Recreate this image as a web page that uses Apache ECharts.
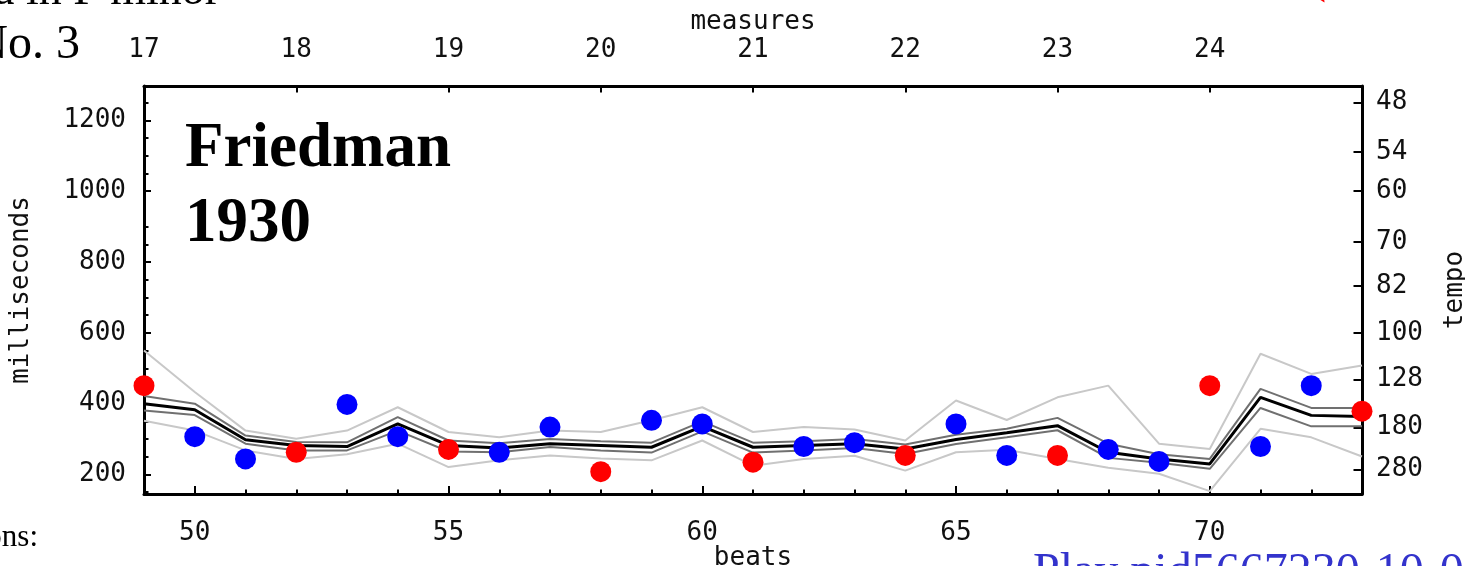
<!DOCTYPE html>
<html>
<head>
<meta charset="utf-8">
<script src="https://cdn.jsdelivr.net/npm/echarts@6/dist/echarts.min.js"></script>
<style>
  html, body { margin: 0; padding: 0; background: #fff; }
  #chart { width: 1465px; height: 566px; }
</style>
</head>
<body>
<div id="chart"></div>
<script>
// Beat numbers (measures 17-25, three beats per measure)
const beats = [49, 50, 51, 52, 53, 54, 55, 56, 57, 58, 59, 60, 61, 62, 63, 64, 65, 66, 67, 68, 69, 70, 71, 72, 73];
// Inter-onset interval of each beat in one performance (ms)
const beatIoi = [451, 307, 244, 263, 398, 307, 271, 263, 334, 208, 353, 343, 235, 279, 290, 254, 343, 254, 254, 271, 237, 451, 279, 451, 379];
// Average over all performances, with standard error and standard deviation bands (ms)
const avgIoi  = [400, 383, 298, 282, 279, 343, 282, 275, 287, 282, 277, 336, 277, 282, 287, 272, 299, 318, 338, 263, 244, 230, 418, 367, 364];
const seUpper = [422, 400, 310, 292, 291, 362, 296, 288, 300, 294, 290, 350, 290, 294, 300, 285, 312, 329, 360, 287, 257, 244, 442, 388, 388];
const seLower = [381, 368, 287, 268, 268, 324, 265, 263, 278, 268, 262, 322, 262, 268, 275, 258, 286, 305, 325, 247, 233, 216, 388, 336, 336];
const sdUpper = [550, 433, 324, 301, 324, 390, 320, 305, 324, 320, 353, 390, 320, 334, 327, 296, 409, 354, 418, 451, 287, 272, 541, 484, 508];
const sdLower = [352, 324, 268, 244, 257, 287, 221, 240, 254, 245, 240, 296, 225, 244, 253, 211, 263, 270, 244, 219, 202, 153, 329, 305, 251];

// Downbeats (first beat of each measure) are drawn red
const downbeats = [49, 52, 55, 58, 61, 64, 67, 70, 73];

// Axis ticks and labels
const msTicks = [200, 400, 600, 800, 1000, 1200];
const msMinorTicks = [150, 250, 300, 350, 450, 500, 550, 650, 700, 750, 850, 900, 1050, 1100, 1150, 1250];
const beatLabels = [50, 55, 60, 65, 70];
const measureBeats = [49, 52, 55, 58, 61, 64, 67, 70];
const measureNumbers = [17, 18, 19, 20, 21, 22, 23, 24];
const tempoTicks = [48, 54, 60, 70, 82, 100, 128, 180, 280];

const MS_MIN = 145, MS_MAX = 1297;
const monoFont = "'DejaVu Sans Mono', monospace";
const labelStyle = { fontFamily: monoFont, fontSize: 26, color: '#111' };
const axisLineStyle = { show: true, onZero: false, lineStyle: { color: '#000', width: 3 } };

const chart = echarts.init(document.getElementById('chart'), null, { renderer: 'canvas' });

function bandLine(name, values, color, width, z) {
  return {
    name, type: 'line', xAxisIndex: 0, yAxisIndex: 0,
    data: beats.map((b, i) => [b, values[i]]),
    symbol: 'none', silent: true, z,
    lineStyle: { color, width },
    clip: false
  };
}

const redPoints = [], bluePoints = [];
beats.forEach((b, i) => {
  (downbeats.includes(b) ? redPoints : bluePoints).push([b, beatIoi[i]]);
});

chart.setOption({
  animation: false,
  backgroundColor: '#fff',
  grid: { left: 144, right: 103, top: 86, bottom: 72, containLabel: false, outerBoundsMode: 'none' },
  xAxis: [
    {
      type: 'value', position: 'bottom', min: 49, max: 73,
      axisLine: axisLineStyle,
      axisTick: { show: true, inside: true, length: 4.5, lineStyle: { color: '#000', width: 2 }, customValues: beats },
      axisLabel: Object.assign({ margin: 26, customValues: beatLabels, formatter: v => String(v) }, labelStyle),
      splitLine: { show: false },
      name: 'beats', nameLocation: 'middle', nameGap: 51, nameMoveOverlap: false,
      nameTextStyle: labelStyle
    },
    {
      type: 'value', position: 'bottom', min: 49, max: 73,
      axisLine: { show: false, onZero: false },
      axisTick: { show: true, inside: true, length: 8, lineStyle: { color: '#000', width: 2 }, customValues: beatLabels },
      axisLabel: { show: false },
      splitLine: { show: false }
    },
    {
      type: 'value', position: 'top', min: 49, max: 73,
      axisLine: axisLineStyle,
      axisTick: { show: true, inside: true, length: 6.5, lineStyle: { color: '#000', width: 2 }, customValues: measureBeats },
      axisLabel: Object.assign({
        margin: 23, customValues: measureBeats,
        formatter: v => String(measureNumbers[measureBeats.indexOf(v)])
      }, labelStyle),
      splitLine: { show: false },
      name: 'measures', nameLocation: 'middle', nameGap: 51, nameMoveOverlap: false,
      nameTextStyle: labelStyle
    }
  ],
  yAxis: [
    {
      type: 'value', position: 'left', min: MS_MIN, max: MS_MAX,
      axisLine: axisLineStyle,
      axisTick: { show: true, inside: true, length: 7, lineStyle: { color: '#000', width: 2 }, customValues: msTicks },
      axisLabel: Object.assign({ margin: 18, customValues: msTicks, formatter: v => String(v) }, labelStyle),
      splitLine: { show: false },
      name: 'milliseconds', nameLocation: 'middle', nameRotate: 90, nameGap: 110, nameMoveOverlap: false,
      nameTextStyle: labelStyle
    },
    {
      type: 'value', position: 'left', min: MS_MIN, max: MS_MAX,
      axisLine: { show: false, onZero: false },
      axisTick: { show: true, inside: true, length: 4.5, lineStyle: { color: '#000', width: 2 }, customValues: msMinorTicks },
      axisLabel: { show: false },
      splitLine: { show: false }
    },
    {
      type: 'value', position: 'right', min: MS_MIN, max: MS_MAX,
      axisLine: axisLineStyle,
      axisTick: { show: true, inside: true, length: 8.5, lineStyle: { color: '#000', width: 2 }, customValues: tempoTicks.map(t => 60000 / t) },
      axisLabel: Object.assign({
        margin: 14, customValues: tempoTicks.map(t => 60000 / t),
        formatter: v => String(Math.round(60000 / v))
      }, labelStyle),
      splitLine: { show: false },
      name: 'tempo', nameLocation: 'middle', nameRotate: 90, nameGap: 80, nameMoveOverlap: false,
      nameTextStyle: labelStyle
    }
  ],
  series: [
    bandLine('sdUpper', sdUpper, '#c8c8c8', 2, 3),
    bandLine('sdLower', sdLower, '#c8c8c8', 2, 3),
    bandLine('seUpper', seUpper, '#707070', 2, 4),
    bandLine('seLower', seLower, '#707070', 2, 4),
    bandLine('average', avgIoi, '#000000', 3, 5),
    {
      name: 'downbeats', type: 'scatter', xAxisIndex: 0, yAxisIndex: 0,
      data: redPoints, symbol: 'circle', symbolSize: 21, clip: false, z: 10,
      itemStyle: { color: '#ff0000', opacity: 1 }
    },
    {
      name: 'offbeats', type: 'scatter', xAxisIndex: 0, yAxisIndex: 0,
      data: bluePoints, symbol: 'circle', symbolSize: 21, clip: false, z: 10,
      itemStyle: { color: '#0000ff', opacity: 1 }
    }
  ],
  graphic: [
    { type: 'text', left: 185, top: 118, z: 20,
      style: { text: 'Friedman', font: "bold 63px 'Liberation Serif', serif", fill: '#000' } },
    { type: 'text', left: 185, top: 193, z: 20,
      style: { text: '1930', font: "bold 63px 'Liberation Serif', serif", fill: '#000' } },
    { type: 'text', x: -6, y: -8, z: 20,
      style: { text: 'a in F minor', font: "46px 'Liberation Serif', serif", fill: '#000', verticalAlign: 'middle' } },
    { type: 'text', x: 80, y: 45, z: 20,
      style: { text: 'No. 3', font: "48px 'Liberation Serif', serif", fill: '#000', align: 'right', verticalAlign: 'middle' } },
    { type: 'text', x: 38, y: 538, z: 20,
      style: { text: 'ons:', font: "31px 'Liberation Serif', serif", fill: '#000', align: 'right', verticalAlign: 'middle' } },
    { type: 'text', x: 1033, y: 573, z: 20,
      style: { text: 'Play pid5667230-10-0', font: "48px 'Liberation Serif', serif", fill: '#3333cc', verticalAlign: 'middle' } },
    { type: 'text', x: 1310, y: -21, z: 20,
      style: { text: '(', font: "48px 'Liberation Serif', serif", fill: '#ff0000', verticalAlign: 'middle' } }
  ]
});
</script>
</body>
</html>
